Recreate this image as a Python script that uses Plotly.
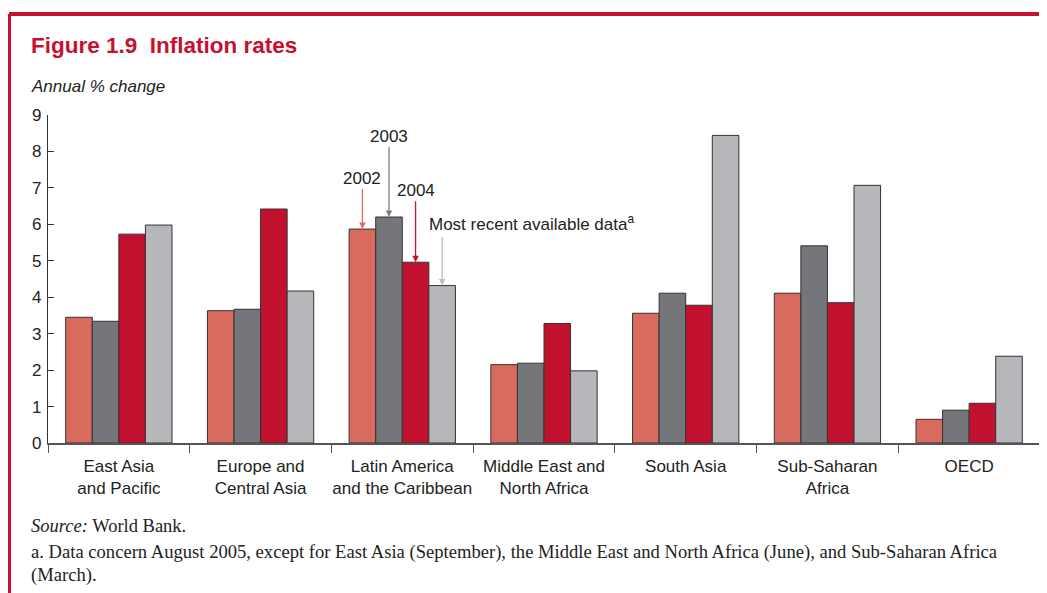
import plotly.graph_objects as go

regions = [
    "East Asia<br>and Pacific",
    "Europe and<br>Central Asia",
    "Latin America<br>and the Caribbean",
    "Middle East and<br>North Africa",
    "South Asia",
    "Sub-Saharan<br>Africa",
    "OECD",
]
series_names = ["2002", "2003", "2004", "Most recent available data"]
v2002 = [3.45, 3.63, 5.87, 2.15, 3.56, 4.11, 0.65]
v2003 = [3.34, 3.67, 6.20, 2.19, 4.11, 5.41, 0.90]
v2004 = [5.73, 6.42, 4.96, 3.28, 3.78, 3.85, 1.09]
v_recent = [5.98, 4.17, 4.32, 1.98, 8.44, 7.07, 2.38]
y_ticks = [0, 1, 2, 3, 4, 5, 6, 7, 8, 9]

BAR_COLORS = ["#D86B5E", "#75767B", "#C2112F", "#B6B7BB"]
ARROW_COLORS = ["#E06A5B", "#808085", "#C2112F", "#BDBEC2"]
RED = "#C8102E"
SANS = "Liberation Sans, Arial, sans-serif"
SERIF = "Liberation Serif, Times New Roman, serif"
TXT = "#222222"
LEFT = -0.0192

fig = go.Figure()
for name, vals, col in zip(series_names, [v2002, v2003, v2004, v_recent], BAR_COLORS):
    fig.add_trace(go.Bar(
        x=regions,
        y=vals,
        name=name,
        marker=dict(color=col, line=dict(color="#333333", width=1)),
    ))

# year call-outs on the Latin America group
la = 2
offsets = [-0.28125, -0.09375, 0.09375, 0.28125]
label_ay = [-51, -81, -72]
for i in range(3):
    vals = [v2002, v2003, v2004][i]
    fig.add_annotation(
        x=la + offsets[i], y=vals[la], xref="x", yref="y",
        text=series_names[i], showarrow=True,
        ax=0, ay=label_ay[i],
        arrowhead=2, arrowsize=1, arrowwidth=1.3, arrowcolor=ARROW_COLORS[i],
        font=dict(family=SANS, size=17, color=TXT),
    )
fig.add_annotation(
    x=la + offsets[3], y=v_recent[la], xref="x", yref="y",
    text="", showarrow=True, ax=0, ay=-50,
    arrowhead=2, arrowsize=1, arrowwidth=1.3, arrowcolor=ARROW_COLORS[3],
)
fig.add_annotation(
    x=la + offsets[3], y=6.03, xref="x", yref="y", xshift=-15,
    text="Most recent available data<sup>a</sup>", showarrow=False,
    xanchor="left", yanchor="middle",
    font=dict(family=SANS, size=17, color=TXT),
)

# titles and notes
fig.add_annotation(
    x=LEFT, y=1.2134, xref="paper", yref="paper",
    text="<b>Figure 1.9  Inflation rates</b>", showarrow=False,
    xanchor="left", yanchor="middle",
    font=dict(family=SANS, size=22.5, color=RED),
)
fig.add_annotation(
    x=LEFT, y=1.0884, xref="paper", yref="paper",
    text="<i>Annual % change</i>", showarrow=False,
    xanchor="left", yanchor="middle",
    font=dict(family=SANS, size=17, color=TXT),
)
fig.add_annotation(
    x=LEFT, y=-0.2530, xref="paper", yref="paper",
    text="<i>Source:</i> World Bank.", showarrow=False,
    xanchor="left", yanchor="middle",
    font=dict(family=SERIF, size=18.5, color=TXT),
)
fig.add_annotation(
    x=LEFT, y=-0.3323, xref="paper", yref="paper",
    text="a. Data concern August 2005, except for East Asia (September), the Middle East and North Africa (June), and Sub-Saharan Africa",
    showarrow=False, xanchor="left", yanchor="middle",
    font=dict(family=SERIF, size=18.6, color=TXT),
)
fig.add_annotation(
    x=LEFT, y=-0.4024, xref="paper", yref="paper",
    text="(March).", showarrow=False,
    xanchor="left", yanchor="middle",
    font=dict(family=SERIF, size=18.6, color=TXT),
)

# red frame (top and left rule)
fig.add_shape(type="line", xref="paper", yref="paper",
              x0=-0.0393, x1=1.01, y0=1.3079, y1=1.3079,
              line=dict(color=RED, width=4))
fig.add_shape(type="line", xref="paper", yref="paper",
              x0=-0.0393, x1=-0.0393, y0=-0.5, y1=1.3079,
              line=dict(color=RED, width=4))

# page body adds an 8px margin, so the figure is 8px smaller on each axis
fig.update_layout(
    template="plotly_white",
    width=1039,
    height=585,
    margin=dict(l=40, r=7, t=107, b=150),
    barmode="group",
    bargap=0.25,
    bargroupgap=0,
    showlegend=False,
    plot_bgcolor="white",
    paper_bgcolor="white",
    font=dict(family=SANS, size=17, color=TXT),
    xaxis=dict(
        showgrid=False, zeroline=False,
        showline=True, linecolor="#555555", linewidth=1.5,
        ticks="outside", tickson="boundaries", ticklen=8, tickcolor="#555555",
        tickangle=0, ticklabelstandoff=7,
        tickfont=dict(family=SANS, size=17, color=TXT),
    ),
    yaxis=dict(
        range=[0, 9], tickvals=y_ticks,
        showgrid=False, zeroline=False,
        showline=True, linecolor="#333333", linewidth=1.2,
        ticks="inside", ticklen=6, tickcolor="#333333",
        ticklabelstandoff=2,
        tickfont=dict(family=SANS, size=17, color=TXT),
    ),
)

fig.write_html("out.html")
